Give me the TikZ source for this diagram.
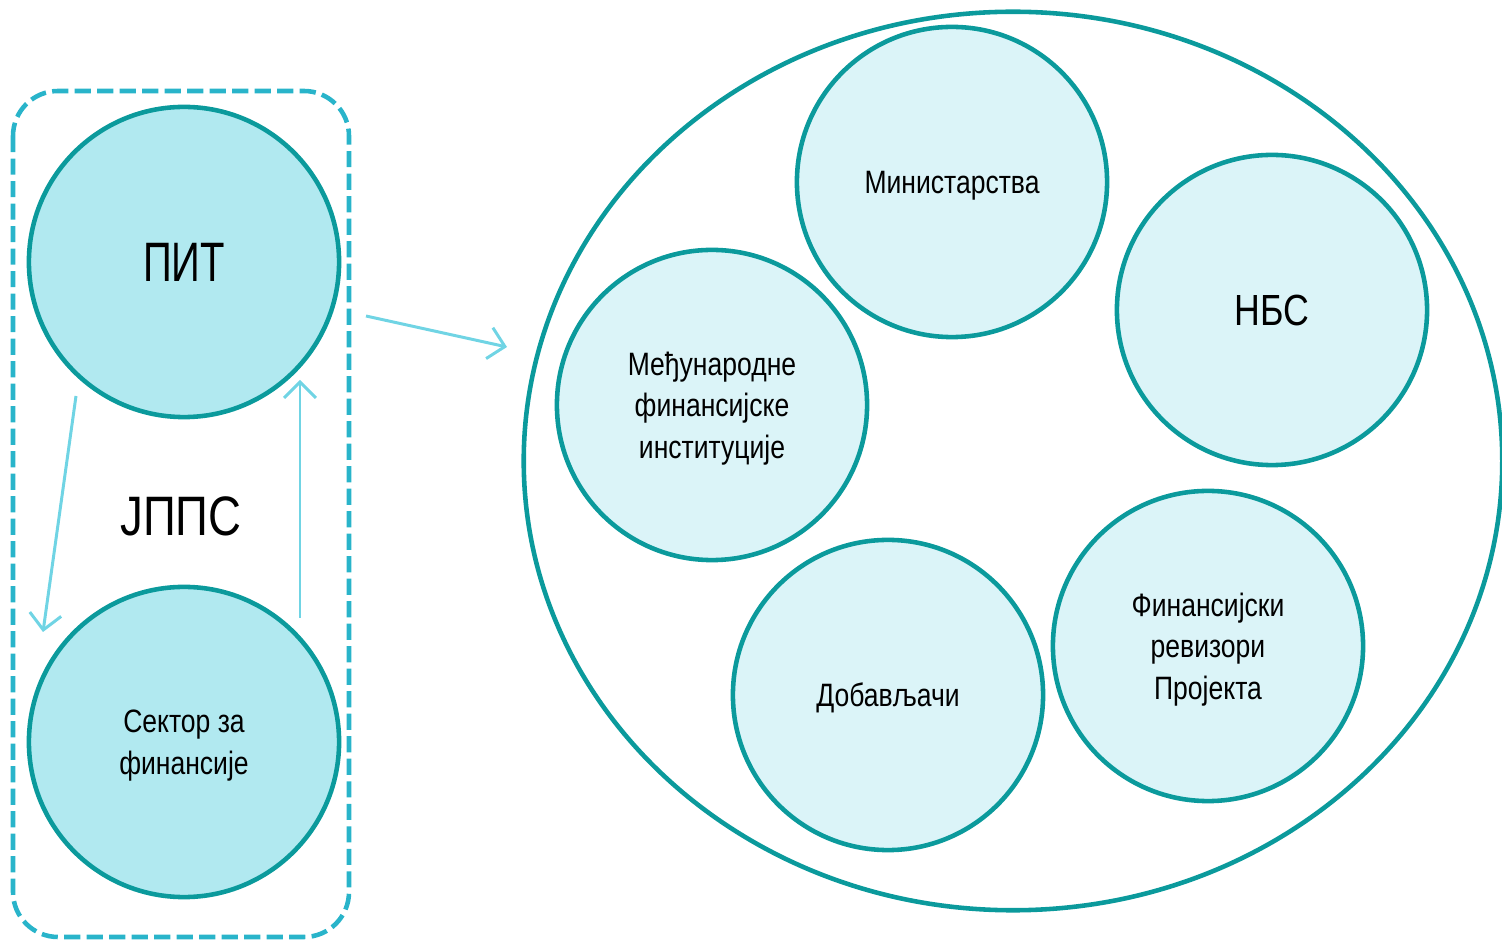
\documentclass[tikz,border=0pt]{standalone}
\usepackage{fontspec}
\setmainfont[FakeStretch=0.82]{Liberation Sans}
\usetikzlibrary{shapes.geometric, arrows.meta}

\definecolor{tealline}{HTML}{0B9A9C}
\definecolor{dashline}{HTML}{29B4CA}
\definecolor{arrline}{HTML}{70D4E4}
\definecolor{darkfill}{HTML}{B1E9F0}
\definecolor{lightfill}{HTML}{DBF4F8}

\tikzset{
    bigball/.style={circle, draw=tealline, line width=1.3pt, fill=darkfill, minimum size=3.1cm, inner sep=0pt, align=center},
    smallball/.style={circle, draw=tealline, line width=1.3pt, fill=lightfill, minimum size=3.1cm, inner sep=0pt, align=center, text depth=-3pt, font=\fontsize{9.2}{11.8}\selectfont},
    flow/.style={->, >={Straight Barb[length=4.5pt, width=9pt]}, draw=arrline, line width=0.85pt}
}

\begin{document}
\begin{tikzpicture}[x=0.01cm, y=-0.01cm]
        \useasboundingbox (0,0) rectangle (1502,940);

        % left group
        \draw[dashline, line width=1.3pt, dash pattern=on 4.6pt off 1.8pt, rounded corners=0.45cm] (13,91) rectangle (349,937);
        \node[bigball, font=\fontsize{15.8}{18}\selectfont] (pit) at (184,262) {\addfontfeature{FakeStretch=0.72}ПИТ};
        \node[bigball, text depth=-3pt, font=\fontsize{9.2}{11.8}\selectfont] (sektor) at (184,742) {Сектор за\\финансије};
        \node[font=\fontsize{15.8}{18}\selectfont] (jpps) at (181,516) {ЈППС};

        \coordinate (down1) at (76,396);
        \coordinate (down2) at (43,632);
        \coordinate (up1) at (300,618);
        \coordinate (up2) at (300,380);
        \draw[flow] (down1) -- (down2);
        \draw[flow] (up1) -- (up2);

        % right group
        \node[ellipse, draw=tealline, line width=1.3pt, minimum width=9.78cm, minimum height=8.98cm, inner sep=0pt] (outer) at (1013,461) {};
        \node[smallball] (min) at (952,182) {Министарства};
        \node[smallball, text depth=0pt, font=\fontsize{12.4}{15}\selectfont] (nbs) at (1272,310) {НБС};
        \node[smallball] (mfi) at (712,405) {Међународне\\финансијске\\институције};
        \node[smallball] (dob) at (888,695) {Добављачи};
        \node[smallball] (rev) at (1208,646) {Финансијски\\ревизори\\Пројекта};

        \coordinate (link1) at (366,316);
        \coordinate (link2) at (507,347);
        \draw[flow] (link1) -- (link2);

\end{tikzpicture}
\end{document}
